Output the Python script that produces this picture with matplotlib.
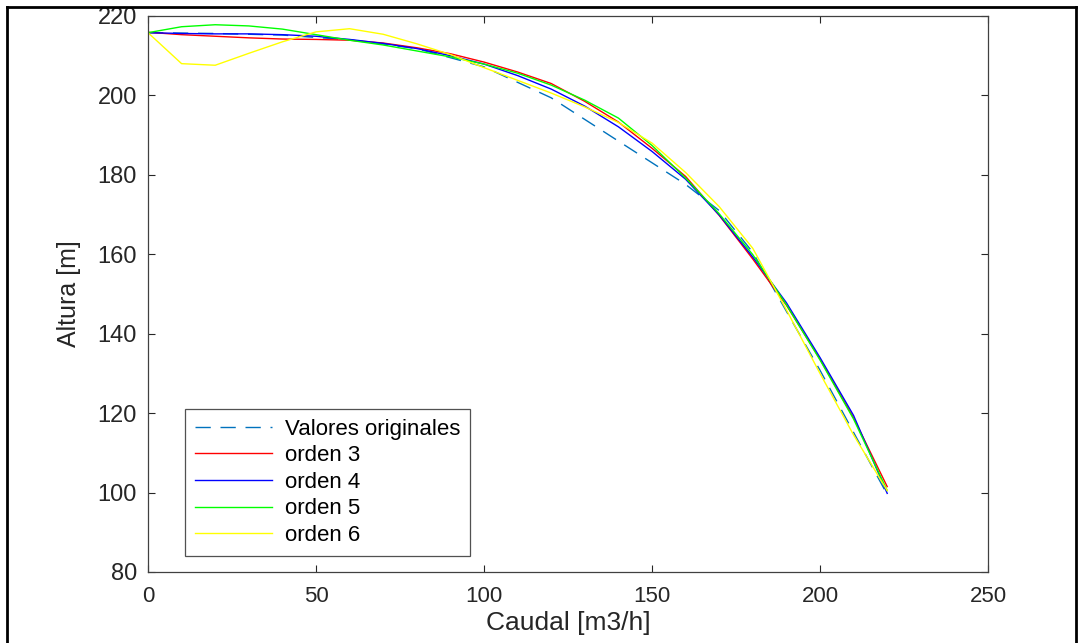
import matplotlib
matplotlib.use("Agg")
import matplotlib.pyplot as plt
from matplotlib.lines import Line2D

plt.rcParams['font.family'] = ['Liberation Sans', 'DejaVu Sans']

# Original data
q_orig = [0, 20, 40, 60, 80, 100, 120, 160, 170, 180, 200, 220]
h_orig = [215.8, 215.6, 215.2, 214.0, 211.8, 207.2, 199.4, 177.6, 171.0, 160.5, 130.8, 99.5]

# Fitted curves evaluated every 10 m3/h
q_fit = [0, 10, 20, 30, 40, 50, 60, 70, 80, 90, 100, 110,
         120, 130, 140, 150, 160, 170, 180, 190, 200, 210, 220]
h_ord3 = [215.9, 215.3, 214.9, 214.5, 214.2, 214.1, 213.9, 213.2, 212.0, 210.5, 208.4, 205.9,
          203.0, 198.5, 193.3, 186.7, 179.6, 169.8, 158.8, 147.2, 133.6, 118.8, 101.5]
h_ord4 = [215.8, 215.6, 215.5, 215.5, 215.3, 214.9, 214.1, 213.1, 211.8, 210.0, 207.9, 205.0,
          201.6, 197.3, 192.1, 185.9, 178.9, 169.9, 159.3, 147.8, 134.0, 119.4, 99.8]
h_ord5 = [215.8, 217.3, 217.8, 217.5, 216.7, 215.3, 213.9, 212.7, 211.2, 209.7, 207.9, 205.6,
          202.6, 198.8, 194.3, 187.4, 179.2, 170.2, 159.9, 147.3, 133.4, 118.5, 100.5]
h_ord6 = [215.8, 208.0, 207.6, 210.6, 213.5, 216.0, 216.8, 215.4, 213.0, 210.3, 207.0, 203.8,
          200.6, 197.1, 193.2, 188.0, 180.6, 172.0, 161.5, 146.0, 130.0, 114.5, 100.5]

W, H = 1081, 643
fig = plt.figure(figsize=(W / 100, H / 100), dpi=100, facecolor='white')
ax = fig.add_axes([148 / W, (H - 572) / H, (988 - 148) / W, (572 - 16) / H])

ax.plot(q_orig, h_orig, color='#0072BD', lw=1.0, ls=(0, (11, 7)), label='Valores originales')
ax.plot(q_fit, h_ord3, color='#FF0000', lw=1.0, label='orden 3')
ax.plot(q_fit, h_ord4, color='#0000FF', lw=1.0, label='orden 4')
ax.plot(q_fit, h_ord5, color='#00FF00', lw=1.0, label='orden 5')
ax.plot(q_fit, h_ord6, color='#FFFF00', lw=1.0, label='orden 6')

ax.set_xlim(0, 250)
ax.set_ylim(80, 220)
ax.set_xticks([0, 50, 100, 150, 200, 250])
ax.set_yticks([80, 100, 120, 140, 160, 180, 200, 220])
ax.tick_params(direction='in', length=5, width=0.8, colors='#262626',
               top=True, right=True, labelcolor='#262626')
ax.tick_params(axis='x', pad=10, labelsize=16)
ax.tick_params(axis='y', pad=8, labelsize=17)
for s in ax.spines.values():
    s.set_color('#404040')
    s.set_linewidth(0.9)

ax.set_xlabel('Caudal [m3/h]', fontsize=19, color='#262626', labelpad=3)
ax.set_ylabel('Altura [m]', fontsize=18, color='#262626', labelpad=12)

leg = ax.legend(loc='lower left', bbox_to_anchor=(0.044, 0.029), fontsize=16,
                frameon=True, fancybox=False, edgecolor='#262626', handlelength=3.45,
                handletextpad=0.6, borderpad=0.45, labelspacing=0.25, borderaxespad=0)
leg.get_frame().set_linewidth(0.9)

# screenshot border
fig.add_artist(Line2D([7 / W, 7 / W], [0, 1 - 7 / H], transform=fig.transFigure, color='black', lw=2))
fig.add_artist(Line2D([7 / W, 1076 / W], [1 - 7 / H, 1 - 7 / H], transform=fig.transFigure, color='black', lw=2))
fig.add_artist(Line2D([1076 / W, 1076 / W], [0, 1 - 7 / H], transform=fig.transFigure, color='black', lw=2))

fig.savefig('out.png', dpi=100, facecolor='white')
